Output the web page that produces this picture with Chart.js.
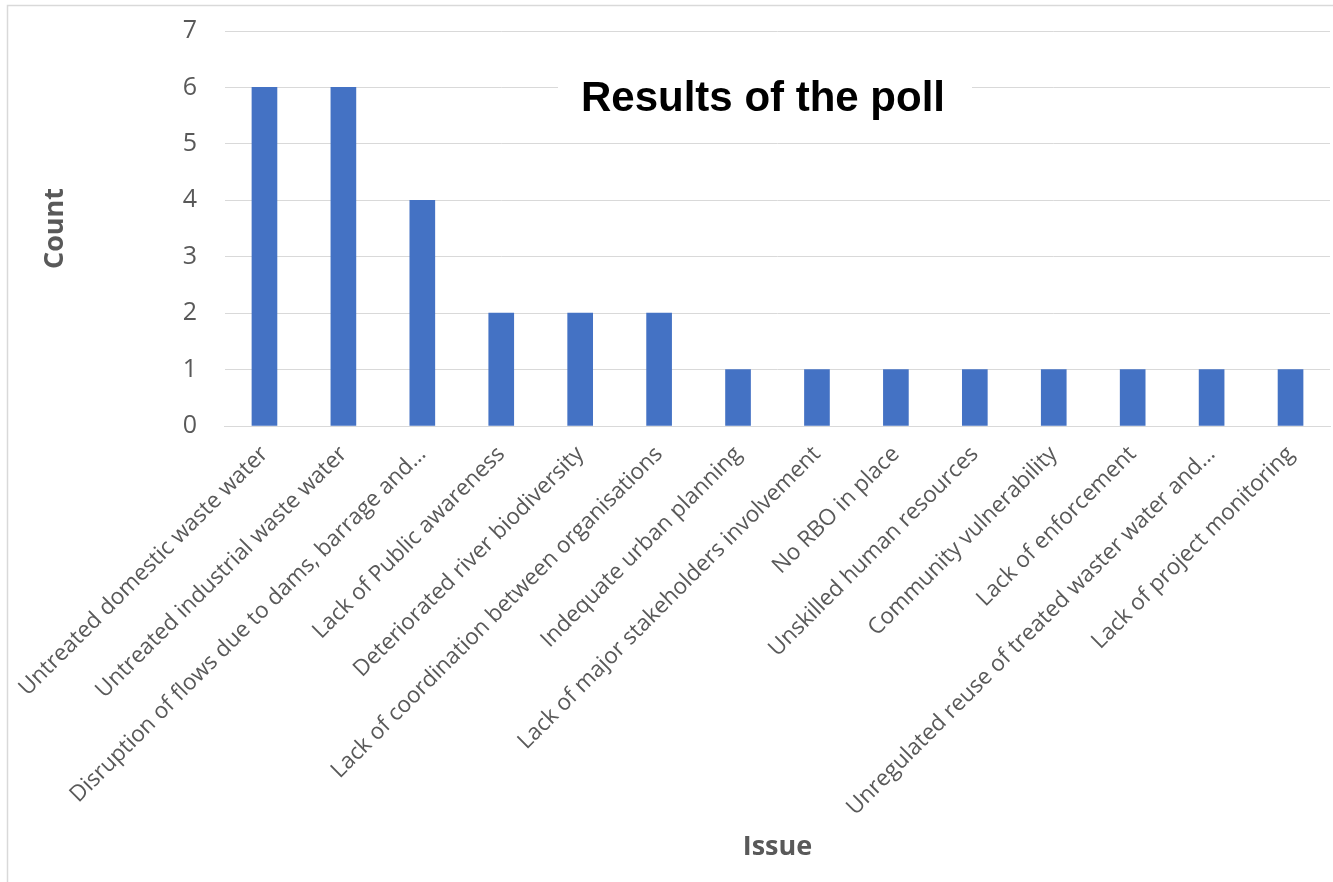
<!DOCTYPE html>
<html>
<head>
<meta charset="utf-8">
<script src="https://cdn.jsdelivr.net/npm/chart.js@4.4.0/dist/chart.umd.min.js"></script>
<style>
  html, body { margin: 0; padding: 0; background: #ffffff; }
  #wrap { width: 1333px; height: 882px; position: relative; }
</style>
</head>
<body>
<div id="wrap"><canvas id="c" width="1333" height="882"></canvas></div>
<script>
const categories = [
  "Untreated domestic waste water",
  "Untreated industrial waste water",
  "Disruption of flows due to dams, barrage and…",
  "Lack of Public awareness",
  "Deteriorated river biodiversity",
  "Lack of coordination between organisations",
  "Indequate urban planning",
  "Lack of major stakeholders involvement",
  "No RBO in place",
  "Unskilled human resources",
  "Community vulnerability",
  "Lack of enforcement",
  "Unregulated reuse of treated waster water and…",
  "Lack of project monitoring"
];
const counts = [6, 6, 4, 2, 2, 2, 1, 1, 1, 1, 1, 1, 1, 1];
const chartTitle = "Results of the poll";
const xTitle = "Issue";
const yTitle = "Count";

const frameAndTitle = {
  id: 'frameAndTitle',
  beforeDraw(chart) {
    const ctx = chart.ctx;
    ctx.save();
    ctx.fillStyle = '#ffffff';
    ctx.fillRect(0, 0, chart.width, chart.height);
    ctx.strokeStyle = '#d9d9d9';
    ctx.lineWidth = 1.5;
    ctx.strokeRect(7.5, 5.5, chart.width + 20, chart.height + 20);
    ctx.restore();
  },
  afterDatasetsDraw(chart) {
    const ctx = chart.ctx;
    ctx.save();
    ctx.fillStyle = '#ffffff';
    ctx.fillRect(558, 68, 414, 62);
    ctx.fillStyle = '#000000';
    ctx.font = 'bold 42px "Liberation Sans", Arial, sans-serif';
    ctx.textAlign = 'center';
    ctx.textBaseline = 'middle';
    ctx.fillText(chartTitle, 763, 99);
    ctx.restore();
  }
};

new Chart(document.getElementById('c'), {
  type: 'bar',
  data: {
    labels: categories,
    datasets: [{
      data: counts,
      backgroundColor: '#4472C4',
      borderWidth: 0,
      barThickness: 25
    }]
  },
  options: {
    responsive: false,
    animation: false,
    layout: { padding: { top: 31, right: 3, left: 28, bottom: 18 } },
    plugins: {
      legend: { display: false },
      tooltip: { enabled: false }
    },
    scales: {
      x: {
        grid: { display: false, drawTicks: false },
        border: { color: '#d9d9d9', width: 1 },
        ticks: {
          color: '#595959',
          font: { family: '"Open Sans", sans-serif', size: 22.5 },
          maxRotation: 45,
          minRotation: 45,
          autoSkip: false,
          padding: 15
        },
        title: {
          display: true,
          text: xTitle,
          color: '#595959',
          font: { family: '"Open Sans", sans-serif', size: 27, weight: 'bold' },
          padding: { top: 10, bottom: 0 }
        },
        afterFit(scale) { scale.height = 882 - 426 - 18; }
      },
      y: {
        min: 0,
        max: 7,
        grid: { color: '#d9d9d9', lineWidth: 1, drawTicks: false },
        border: { display: false },
        ticks: {
          stepSize: 1,
          color: '#595959',
          font: { family: '"Open Sans", sans-serif', size: 25 },
          padding: 28
        },
        title: {
          display: true,
          text: yTitle,
          color: '#595959',
          font: { family: '"Open Sans", sans-serif', size: 27, weight: 'bold' },
          padding: { top: 8, bottom: 100 }
        },
        afterFit(scale) {
          scale.width = 222 - 28;
          scale.paddingTop = 10;
          scale.paddingBottom = 10;
        }
      }
    }
  },
  plugins: [frameAndTitle]
});
</script>
</body>
</html>
